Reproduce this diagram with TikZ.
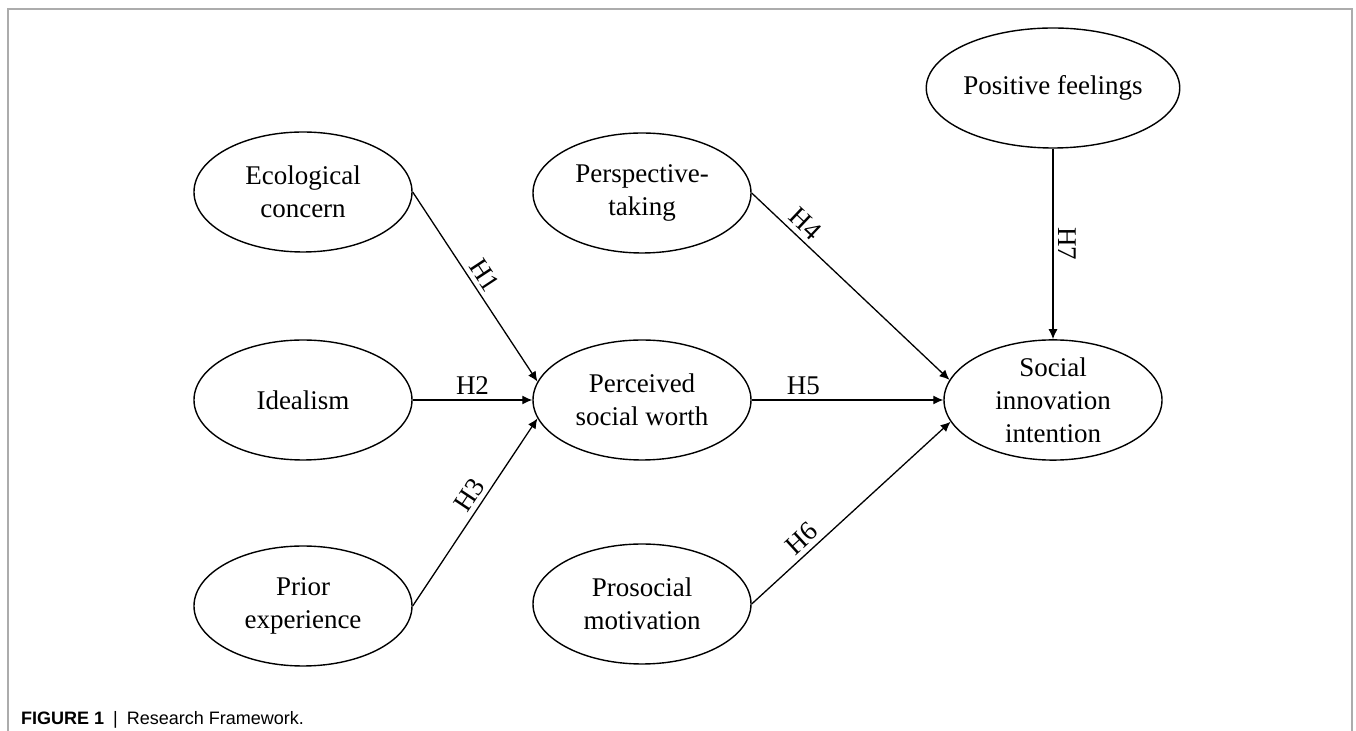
\documentclass[tikz,border=0pt]{standalone}
\usepackage{fontspec}
\setmainfont{Liberation Serif}
\newfontfamily\capfont{Liberation Sans}
\usetikzlibrary{shapes.geometric, arrows.meta}

\begin{document}
\begin{tikzpicture}[
	x = 0.5pt, y = -0.5pt,  % one unit = one pixel of the figure
	every node/.style = {font=\fontsize{13.5}{16.5}\selectfont},
	latent/.style = {draw, ellipse, line width=0.7pt, inner sep=0pt, minimum width=109pt, minimum height=60pt, align=center},
	link/.style = {-{Latex[length=5pt, width=4.5pt]}, line width=0.65pt},
	hlab/.style = {sloped, above, inner sep=2.5pt},
	boxline/.style = {draw=gray!65, line width=0.6pt}
	]
	\useasboundingbox (0,0) rectangle (1356,731);
	\draw[boxline] (8,731) -- (8,9) -- (1352,9) -- (1352,731);

	\node[latent] (eco) at (303,192) {Ecological\\concern};
	\node[latent] (idea) at (303,400) {Idealism};
	\node[latent] (prior) at (303,606) {Prior\\experience};
	\node[latent] (persp) at (642,193) {Perspective-\\taking};
	\node[latent] (psw) at (642,400) {Perceived\\social worth};
	\node[latent] (proso) at (642,604) {Prosocial\\motivation};
	\node[latent, minimum width=115pt] (posf) at (1053,88) {Positive feelings};
	\node[latent] (sii) at (1053,400) {Social\\innovation\\intention};

	\draw[link] (eco.east) -- node[hlab, pos=0.48] {H1} (psw.170);
	\draw[link] (idea.east) -- node[hlab, pos=0.5] {H2} (psw.west);
	\draw[link] (prior.east) -- node[hlab, pos=0.55] {H3} (psw.190);
	\draw[link] (persp.east) -- node[hlab, pos=0.22] {H4} (sii.169);
	\draw[link] (psw.east) -- node[hlab, pos=0.27] {H5} (sii.west);
	\draw[link] (proso.east) -- node[hlab, pos=0.3] {H6} (sii.192);
	\draw[link] (posf.south) -- node[hlab, pos=0.5] {H7} (sii.north);

	\node[anchor=base west, font=\capfont\fontsize{9}{11}\selectfont] (cap) at (14,725) {\textbf{FIGURE 1}\enspace|\enspace Research Framework.};
\end{tikzpicture}
\end{document}
